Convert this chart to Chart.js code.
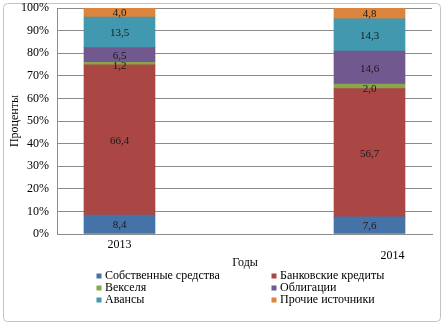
<!DOCTYPE html>
<html>
<head>
<meta charset="utf-8">
<script src="https://cdn.jsdelivr.net/npm/chart.js@4"></script>
<style>
  html, body { margin: 0; padding: 0; background: #fff; }
  #wrap { width: 444px; height: 325px; }
</style>
</head>
<body>
<div id="wrap"><canvas id="chart" width="444" height="325"></canvas></div>
<script>
// categories (middle one is empty, it only keeps the gap between the bars)
var years = ['2013', '', '2014'];
var sources = ['Собственные средства', 'Банковские кредиты', 'Векселя', 'Облигации', 'Авансы', 'Прочие источники'];
var colors = ['#4572A7', '#AA4643', '#89A54E', '#71588F', '#4198AF', '#DB843D'];

// shares in %, per source
var own = [8.4, null, 7.6];
var bankCredits = [66.4, null, 56.7];
var bills = [1.2, null, 2.0];
var bonds = [6.5, null, 14.6];
var advances = [13.5, null, 14.3];
var other = [4.0, null, 4.8];

var yTicks = ['0%', '10%', '20%', '30%', '40%', '50%', '60%', '70%', '80%', '90%', '100%'];

var serif = '"Liberation Serif", "Times New Roman", serif';
var allSeries = [own, bankCredits, bills, bonds, advances, other];

var datasets = [];
for (var i = 0; i < sources.length; i++) {
    datasets.push({
        label: sources[i],
        data: allSeries[i],
        backgroundColor: colors[i],
        borderWidth: 0,
        barThickness: 71
    });
}

// frame around the whole picture
var framePlugin = {
    id: 'frame',
    beforeDraw: function (chart) {
        var ctx = chart.ctx;
        ctx.save();
        ctx.fillStyle = '#fff';
        ctx.fillRect(0, 0, chart.width, chart.height);
        ctx.strokeStyle = '#c4c4c4';
        ctx.lineWidth = 1;
        ctx.beginPath();
        ctx.roundRect(3.5, 3.5, chart.width - 7, chart.height - 7, 4);
        ctx.stroke();
        ctx.restore();
    }
};

// values inside the segments, x labels, and the two-column legend
var textPlugin = {
    id: 'texts',
    afterDraw: function (chart) {
        var ctx = chart.ctx;
        var x = chart.scales.x;
        ctx.save();
        ctx.font = '11px ' + serif;
        ctx.fillStyle = '#1a1a1a';
        ctx.textAlign = 'center';
        ctx.textBaseline = 'middle';
        chart.data.datasets.forEach(function (ds, di) {
            var meta = chart.getDatasetMeta(di);
            meta.data.forEach(function (bar, j) {
                var v = ds.data[j];
                if (v === null) return;
                var yc = (bar.y + bar.base) / 2 + 1;
                if (di === 2) yc += 2;
                ctx.fillText(v.toFixed(1).replace('.', ','), bar.x, yc);
            });
        });

        // year labels
        ctx.font = '12px ' + serif;
        ctx.fillStyle = '#000';
        ctx.fillText(years[0], x.getPixelForValue(0), 245);
        ctx.fillText(years[2], x.getPixelForValue(2) + 23, 256);
        ctx.fillText('Годы', 245, 263);

        // legend
        var cols = [99, 274];
        var rows = [276, 288, 300];
        ctx.textAlign = 'left';
        ctx.font = '12px ' + serif;
        for (var k = 0; k < sources.length; k++) {
            var lx = cols[k % 2];
            var ly = rows[Math.floor(k / 2)];
            ctx.fillStyle = colors[k];
            ctx.fillRect(lx - 2.5, ly - 2.5, 5, 5);
            ctx.fillStyle = '#000';
            ctx.fillText(sources[k], lx + 6, ly);
        }
        ctx.restore();
    }
};

var ctx = document.getElementById('chart').getContext('2d');
var myChart = new Chart(ctx, {
    type: 'bar',
    data: {
        labels: years,
        datasets: datasets
    },
    options: {
        responsive: false,
        animation: false,
        maintainAspectRatio: false,
        layout: {
            padding: { left: 0, right: 12, top: 8, bottom: 0 }
        },
        plugins: {
            legend: { display: false },
            tooltip: { enabled: false }
        },
        scales: {
            x: {
                stacked: true,
                grid: { display: false, drawTicks: false },
                border: { display: true, color: '#8c8c8c' },
                ticks: { display: false },
                afterFit: function (scale) {
                    scale.height = 91;
                    scale.paddingLeft = 0;
                    scale.paddingRight = 0;
                }
            },
            y: {
                stacked: true,
                min: 0,
                max: 100,
                afterBuildTicks: function (scale) {
                    scale.ticks = yTicks.map(function (t, i) { return { value: i * 10 }; });
                },
                ticks: {
                    padding: 8,
                    font: { family: serif, size: 12 },
                    color: '#000',
                    callback: function (value, index) { return yTicks[index]; }
                },
                grid: { color: '#8c8c8c', drawTicks: false },
                border: { display: true, color: '#8c8c8c' },
                title: {
                    display: true,
                    text: 'Проценты',
                    font: { family: serif, size: 12 },
                    color: '#000',
                    padding: { top: 8, bottom: 0 }
                },
                afterFit: function (scale) {
                    scale.width = 57;
                    scale.paddingTop = 0;
                    scale.paddingBottom = 0;
                }
            }
        }
    },
    plugins: [framePlugin, textPlugin]
});
</script>
</body>
</html>
